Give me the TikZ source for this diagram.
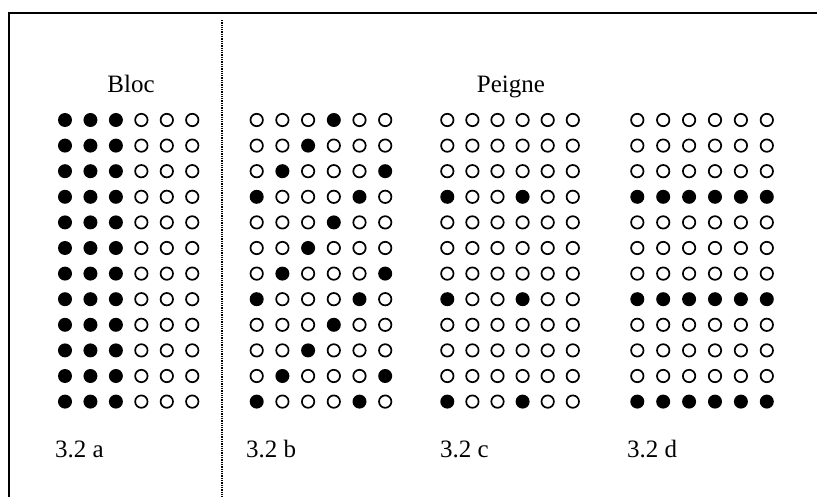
\documentclass[tikz,border=0pt]{standalone}
\usepackage{fontspec}
\setmainfont{Liberation Serif}

\begin{document}
\begin{tikzpicture}[x=1pt,y=-1pt,
    full/.style={fill=black},
    empty/.style={draw=black,line width=1.7pt,fill=white},
    lbl/.style={font=\fontsize{25}{30}\selectfont,inner sep=0pt}]
    \useasboundingbox (0,0) rectangle (817,497);

    % Frame (open to the right and at the bottom) and the dotted divider
    \draw[line width=1.4pt] (9,497) -- (9,13) -- (817,13);
    \draw[line width=1.3pt,dash pattern=on 1.3pt off 1pt] (222,20) -- (222,497);

    % Define a grid of 12 x 6 holes.
    % #1 ... left column, #2 ... column spacing
    % #3 ... test that is 1 where the hole is filled
    \def\holes#1#2#3{
        \foreach \r in {1,...,12} {
            \foreach \c in {1,...,6} {
                \pgfmathtruncatemacro\isfull{#3}
                \ifnum\isfull=1
                    \fill[full] (#1+#2*\c-#2, 94.4+25.6*\r) circle (7pt);
                \else
                    \draw[empty] (#1+#2*\c-#2, 94.4+25.6*\r) circle (6.2pt);
                \fi
            }
        }
    }

    % 3.2 a: Bloc
    \holes{65}{25.45}{\c<4}
    % 3.2 b: diagonal comb
    \holes{256.7}{25.7}{mod(\r+\c,4)==1}
    % 3.2 c: sparse comb
    \holes{447.3}{25.1}{(mod(\r,4)==0)*(mod(\c,3)==1)}
    % 3.2 d: full rows
    \holes{637.3}{25.9}{mod(\r,4)==0}

    % Titles and captions
    \node[lbl,anchor=base] (bloc) at (131,93) {Bloc};
    \node[lbl,anchor=base] (peigne) at (511,93) {Peigne};
    \node[lbl,anchor=base west] (capa) at (55,457) {3.2 a};
    \node[lbl,anchor=base west] (capb) at (246,457) {3.2 b};
    \node[lbl,anchor=base west] (capc) at (440,457) {3.2 c};
    \node[lbl,anchor=base west] (capd) at (627,457) {3.2 d};
\end{tikzpicture}
\end{document}
